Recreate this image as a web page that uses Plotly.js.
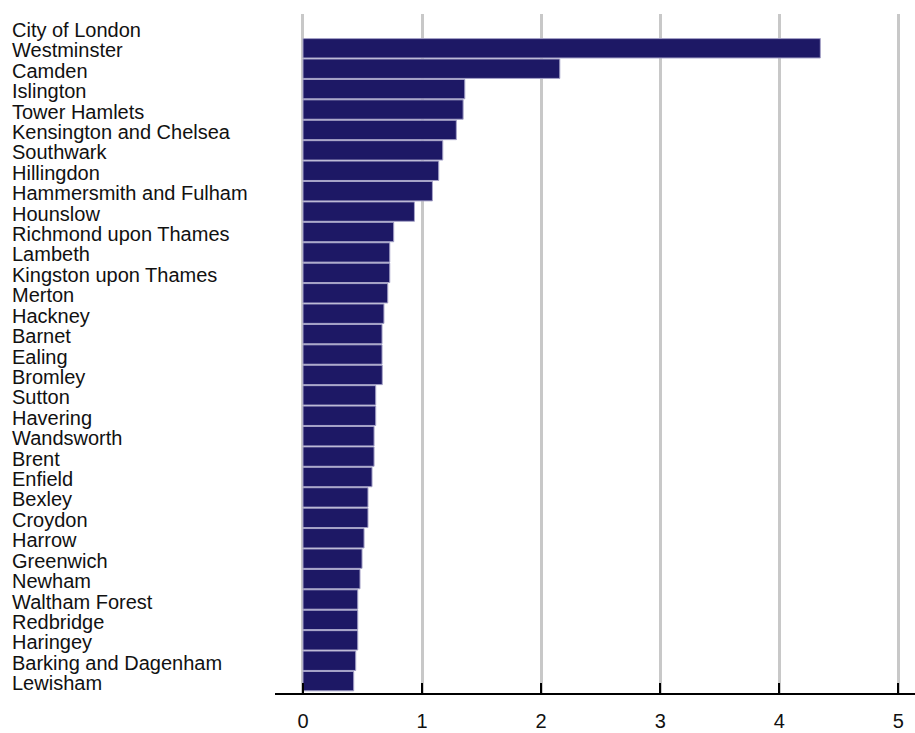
<!DOCTYPE html>
<html>
<head>
<meta charset="utf-8">
<script src="https://cdn.plot.ly/plotly-3.0.1.min.js"></script>
<style>html,body{margin:0;padding:0;background:#fff;}#chart{width:915px;height:733px;}</style>
</head>
<body>
<div id="chart"></div>
<script>
const boroughs = ["City of London","Westminster","Camden","Islington","Tower Hamlets","Kensington and Chelsea","Southwark","Hillingdon","Hammersmith and Fulham","Hounslow","Richmond upon Thames","Lambeth","Kingston upon Thames","Merton","Hackney","Barnet","Ealing","Bromley","Sutton","Havering","Wandsworth","Brent","Enfield","Bexley","Croydon","Harrow","Greenwich","Newham","Waltham Forest","Redbridge","Haringey","Barking and Dagenham","Lewisham"];
const values = [null,4.345,2.157,1.359,1.345,1.288,1.174,1.14,1.087,0.936,0.762,0.729,0.729,0.712,0.68,0.664,0.664,0.666,0.611,0.611,0.597,0.597,0.58,0.546,0.546,0.513,0.496,0.479,0.46,0.46,0.46,0.443,0.426];
const xTicks = [0,1,2,3,4,5];

const n = boroughs.length;
const trace = {
  type: 'bar', orientation: 'h',
  y: boroughs, x: values,
  marker: {color: '#1d1865', line: {color: '#a6a3c8', width: 1}},
  hoverinfo: 'none'
};
const annotations = boroughs.map(b => ({
  xref: 'paper', yref: 'y', x: -0.4125, y: b, xanchor: 'left', yanchor: 'middle',
  text: b, showarrow: false, yshift: -2, borderpad: 0,
  font: {family: 'Liberation Sans, Arial, sans-serif', size: 20, color: '#111'}
}));
const layout = {
  width: 915, height: 733,
  margin: {l: 275, r: 0, t: 14, b: 40},
  paper_bgcolor: '#fff', plot_bgcolor: '#fff',
  showlegend: false, bargap: 0.05,
  xaxis: {
    range: [-0.235, 5.14], tickvals: xTicks, ticktext: xTicks.map(String),
    showgrid: true, gridcolor: '#c8c8c8', gridwidth: 3, zeroline: false,
    showline: true, linecolor: '#000', linewidth: 2,
    ticks: 'inside', ticklen: 10, tickwidth: 2, tickcolor: '#000',
    ticklabelstandoff: 9,
    tickfont: {family: 'Liberation Sans, Arial, sans-serif', size: 20, color: '#111'},
    fixedrange: true
  },
  yaxis: {
    type: 'category', categoryorder: 'array', categoryarray: boroughs,
    range: [n - 0.42, -0.68],
    showticklabels: false, showgrid: false, zeroline: false, showline: false, ticks: '',
    fixedrange: true
  },
  annotations: annotations
};
Plotly.newPlot('chart', [trace], layout, {displayModeBar: false, staticPlot: true});
</script>
</body>
</html>
